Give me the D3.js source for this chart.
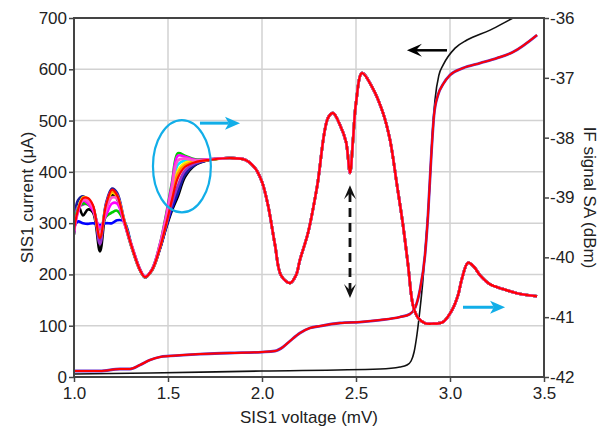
<!DOCTYPE html>
<html>
<head>
<meta charset="utf-8">
<script src="https://cdnjs.cloudflare.com/ajax/libs/d3/7.8.5/d3.min.js"></script>
<style>
body { margin: 0; background: #fff; }
svg { font-family: "Liberation Sans", Arial, sans-serif; }
</style>
</head>
<body>
<div id="chart"></div>
<script>
var width = 606,
    height = 427;
var margin = {top: 18, right: 62, bottom: 50, left: 74};

// axes
var xTicks = [1.0, 1.5, 2.0, 2.5, 3.0, 3.5];
var leftTicks = [0, 100, 200, 300, 400, 500, 600, 700];
var rightTicks = [-42, -41, -40, -39, -38, -37, -36];

// IF signal traces (right axis, dBm)
var ifVolt = [1.000, 1.021, 1.048, 1.074, 1.101, 1.138, 1.170, 1.202, 1.229, 1.266, 1.309, 1.351, 1.378, 1.415, 1.457, 1.489, 1.521, 1.553, 1.590, 1.644, 1.723,
    1.830, 1.910, 1.963, 2.000, 2.032, 2.069, 2.101, 2.149, 2.181, 2.202, 2.245, 2.293, 2.351, 2.378, 2.415, 2.447, 2.468, 2.484, 2.500, 2.532,
    2.585, 2.644, 2.681, 2.718, 2.750, 2.777, 2.803, 2.830, 2.867, 2.904, 2.963, 3.011, 3.043, 3.064, 3.096, 3.128, 3.160, 3.213, 3.282, 3.356, 3.463];
var ifRed = [-39.54, -39.21, -39.01, -39.01, -39.13, -39.68, -39.13, -38.87, -38.96, -39.38, -39.84, -40.21, -40.33, -40.21, -39.84, -39.46, -39.04, -38.67, -38.49, -38.41, -38.37,
    -38.34, -38.37, -38.51, -38.74, -39.13, -39.79, -40.30, -40.43, -40.30, -40.04, -39.59, -38.82, -37.67, -37.59, -37.79, -38.07, -38.59, -38.04, -37.42, -36.92,
    -37.15, -37.59, -38.04, -38.79, -39.46, -40.13, -40.80, -41.01, -41.10, -41.11, -41.08, -40.88, -40.63, -40.35, -40.09, -40.16, -40.30, -40.45, -40.53, -40.60, -40.65];
// the other traces only differ below ~1.72 mV
var leftBlack = [-39.62, -39.12, -39.30, -39.20, -39.25, -39.90, -39.20, -38.95, -39.02, -39.40, -39.86, -40.22, -40.33, -40.22, -39.86, -39.52, -39.22, -38.98, -38.66, -38.46, -38.37];
var leftBlue = [-39.50, -39.40, -39.43, -39.44, -39.43, -39.46, -39.43, -39.43, -39.38, -39.40, -39.84, -40.20, -40.33, -40.20, -39.84, -39.50, -39.18, -38.92, -38.60, -38.44, -38.37];
var leftNavy = [-39.45, -39.05, -38.98, -39.05, -39.15, -39.75, -39.10, -38.85, -38.92, -39.36, -39.84, -40.21, -40.34, -40.21, -39.86, -39.50, -39.14, -38.90, -38.62, -38.45, -38.37];
var leftPurple = [-39.60, -39.15, -39.12, -39.10, -39.18, -39.78, -39.12, -38.88, -38.95, -39.37, -39.85, -40.21, -40.33, -40.21, -39.85, -39.48, -39.10, -38.80, -38.55, -38.43, -38.37];
var leftCyan = [-39.52, -39.18, -39.05, -39.05, -39.15, -39.60, -39.15, -38.90, -38.97, -39.38, -39.84, -40.21, -40.33, -40.21, -39.80, -39.38, -38.88, -38.45, -38.38, -38.38, -38.36];
var leftYellow = [-39.50, -39.20, -39.00, -39.02, -39.18, -39.62, -39.18, -38.92, -38.98, -39.38, -39.84, -40.21, -40.33, -40.21, -39.82, -39.42, -38.95, -38.55, -38.42, -38.39, -38.37];
var leftOrange = [-39.55, -39.22, -39.03, -39.03, -39.15, -39.65, -39.15, -38.90, -38.98, -39.38, -39.84, -40.21, -40.33, -40.21, -39.83, -39.44, -38.98, -38.60, -38.46, -38.40, -38.37];
var leftGreen = [-39.50, -39.20, -39.10, -39.12, -39.20, -39.55, -39.32, -39.25, -39.22, -39.40, -39.82, -40.20, -40.33, -40.20, -39.78, -39.30, -38.75, -38.26, -38.30, -38.36, -38.36];
var leftMagenta = [-39.58, -39.25, -39.05, -39.10, -39.22, -39.50, -39.30, -39.10, -39.10, -39.42, -39.82, -40.20, -40.32, -40.20, -39.78, -39.32, -38.78, -38.30, -38.32, -38.37, -38.36];
var leftPink = [-39.56, -39.22, -39.04, -39.06, -39.18, -39.58, -39.22, -39.00, -39.02, -39.40, -39.83, -40.21, -40.33, -40.21, -39.80, -39.36, -38.84, -38.38, -38.35, -38.38, -38.36];

// I-V curves (left axis, uA)
var ivVolt = [1.000, 1.138, 1.245, 1.298, 1.351, 1.404, 1.457, 1.511, 1.670, 1.830, 2.000, 2.069, 2.112, 2.149, 2.202, 2.255, 2.309, 2.415, 2.521, 2.628,
    2.734, 2.787, 2.814, 2.840, 2.867, 2.883, 2.899, 2.915, 2.936, 2.963, 3.000, 3.069, 3.160, 3.250, 3.335, 3.463];
var ivPumped = [11.7, 11.7, 15.6, 15.6, 23.4, 33.1, 39.0, 41.0, 44.8, 46.8, 48.7, 50.7, 58.5, 70.2, 85.8, 95.5, 99.4, 105.3, 107.2, 111.0,
    117.0, 122.8, 134.5, 169.6, 237.8, 315.8, 423.0, 510.7, 549.7, 571.0, 588.7, 602.3, 612.0, 621.8, 633.5, 666.7];
var ivUnVolt = [1.000, 1.404, 2.000, 2.628, 2.734, 2.771, 2.793, 2.809, 2.824, 2.840, 2.856, 2.872, 2.888, 2.904, 2.920, 2.941, 2.963, 3.027, 3.090, 3.213, 3.335, 3.400];
var ivUnpumped = [5.8, 7.8, 11.7, 15.6, 19.5, 23.4, 31.2, 48.7, 81.9, 130.6, 189, 267, 345, 462, 540, 588.7, 608, 641.3, 657, 676.4, 700, 712];

var traces = [
    ["#000000", leftBlack], ["#0000ff", leftBlue], ["#1c1c9c", leftNavy], ["#9933cc", leftPurple],
    ["#00e5ff", leftCyan], ["#ffee00", leftYellow], ["#ff9900", leftOrange], ["#00cc00", leftGreen],
    ["#ff00ff", leftMagenta], ["#ff55cc", leftPink]
];

var x = d3.scaleLinear().domain([1, 3.5]).range([margin.left, width - margin.right]);
var yL = d3.scaleLinear().domain([0, 700]).range([height - margin.bottom, margin.top]);
var yR = d3.scaleLinear().domain([-42, -36]).range([height - margin.bottom, margin.top]);

var svg = d3.select("#chart").append("svg")
    .attr("width", width)
    .attr("height", height);

svg.append("clipPath").attr("id", "plot")
    .append("rect")
    .attr("x", margin.left).attr("y", margin.top)
    .attr("width", x(3.5) - x(1)).attr("height", yL(0) - yL(700));

// grid
svg.append("g").selectAll("line").data(xTicks).join("line")
    .attr("x1", d => x(d)).attr("x2", d => x(d))
    .attr("y1", yL(0)).attr("y2", yL(700))
    .attr("stroke", "#d2d2d2").attr("stroke-width", 1.5);
svg.append("g").selectAll("line").data(leftTicks).join("line")
    .attr("x1", x(1)).attr("x2", x(3.5))
    .attr("y1", d => yL(d)).attr("y2", d => yL(d))
    .attr("stroke", "#d2d2d2").attr("stroke-width", 1.5);

var plot = svg.append("g").attr("clip-path", "url(#plot)");

var ifLine = d3.line()
    .x(d => x(d[0]))
    .y(d => yR(d[1]))
    .curve(d3.curveCatmullRom.alpha(0.5));
var ivLine = d3.line()
    .x(d => x(d[0]))
    .y(d => yL(d[1]))
    .curve(d3.curveMonotoneX);

// unpumped I-V
plot.append("path")
    .datum(d3.zip(ivUnVolt, ivUnpumped))
    .attr("d", ivLine)
    .attr("fill", "none").attr("stroke", "#111").attr("stroke-width", 1.6);

// pumped I-V
plot.append("path")
    .datum(d3.zip(ivVolt, ivPumped))
    .attr("d", ivLine)
    .attr("fill", "none").attr("stroke", "#6633cc").attr("stroke-width", 2.8);
plot.append("path")
    .datum(d3.zip(ivVolt, ivPumped))
    .attr("d", ivLine)
    .attr("fill", "none").attr("stroke", "#ff0000").attr("stroke-width", 2);

// IF traces
traces.forEach(function (t) {
    var vals = t[1].concat(ifRed.slice(t[1].length));
    plot.append("path")
        .datum(d3.zip(ifVolt, vals))
        .attr("d", ifLine)
        .attr("fill", "none").attr("stroke", t[0]).attr("stroke-width", 2.6)
        .attr("stroke-linejoin", "round");
});
plot.append("path")
    .datum(d3.zip(ifVolt, ifRed))
    .attr("d", ifLine)
    .attr("fill", "none").attr("stroke", "#ff0000").attr("stroke-width", 2.2)
    .attr("stroke-linejoin", "round");

// frame
svg.append("rect")
    .attr("x", x(1)).attr("y", yL(700))
    .attr("width", x(3.5) - x(1)).attr("height", yL(0) - yL(700))
    .attr("fill", "none").attr("stroke", "#444").attr("stroke-width", 2);

// axes
function styleAxis(g) {
    g.select(".domain").remove();
    g.selectAll(".tick line").attr("stroke", "#444").attr("stroke-width", 1.5);
    g.selectAll(".tick text").attr("fill", "#222").attr("font-size", 17)
        .attr("font-family", "'Liberation Sans', Arial, sans-serif");
}
svg.append("g")
    .attr("transform", "translate(0," + yL(0) + ")")
    .call(d3.axisBottom(x).tickValues(xTicks).tickFormat(d3.format(".1f")).tickSize(5).tickPadding(5))
    .call(styleAxis);
svg.append("g")
    .attr("transform", "translate(" + x(1) + ",0)")
    .call(d3.axisLeft(yL).tickValues(leftTicks).tickSize(5).tickPadding(2))
    .call(styleAxis);
svg.append("g")
    .attr("transform", "translate(" + x(3.5) + ",0)")
    .call(d3.axisRight(yR).tickValues(rightTicks).tickFormat(d => String(d)).tickSize(5).tickPadding(1))
    .call(styleAxis);

// titles
svg.append("text")
    .attr("x", (x(1) + x(3.5)) / 2).attr("y", 423)
    .attr("text-anchor", "middle").attr("font-size", 17).attr("fill", "#222")
    .text("SIS1 voltage (mV)");
svg.append("text")
    .attr("transform", "translate(33," + (yL(0) + yL(700)) / 2 + ") rotate(-90)")
    .attr("text-anchor", "middle").attr("font-size", 17).attr("fill", "#222")
    .text("SIS1 current (μA)");
svg.append("text")
    .attr("transform", "translate(584," + (yL(0) + yL(700)) / 2 + ") rotate(90)")
    .attr("text-anchor", "middle").attr("font-size", 17).attr("fill", "#222")
    .text("IF signal SA (dBm)");

// annotations
var blue = "#12aee8";
svg.append("ellipse")
    .attr("cx", x(1.574)).attr("cy", yL(411))
    .attr("rx", x(1.728) - x(1.574)).attr("ry", yL(321) - yL(411))
    .attr("fill", "none").attr("stroke", blue).attr("stroke-width", 2.2);

function head(x1, y1, x2, y2, L, W, notch) {
    var dx = x2 - x1, dy = y2 - y1, n = Math.sqrt(dx * dx + dy * dy);
    var ux = dx / n, uy = dy / n, px = -uy, py = ux;
    var bx = x2 - L * ux, by = y2 - L * uy;
    return "M" + x2 + "," + y2 +
        "L" + (bx + px * W / 2) + "," + (by + py * W / 2) +
        "L" + (x2 - notch * L * ux) + "," + (y2 - notch * L * uy) +
        "L" + (bx - px * W / 2) + "," + (by - py * W / 2) + "Z";
}

function arrow(x1, y1, x2, y2, color, sw, L, W, notch, dash, both) {
    var g = svg.append("g");
    var dx = x2 - x1, dy = y2 - y1, n = Math.sqrt(dx * dx + dy * dy);
    var ux = dx / n, uy = dy / n;
    var sx = both ? x1 + ux * notch * L : x1, sy = both ? y1 + uy * notch * L : y1;
    g.append("line")
        .attr("x1", sx).attr("y1", sy)
        .attr("x2", x2 - ux * notch * L).attr("y2", y2 - uy * notch * L)
        .attr("stroke", color).attr("stroke-width", sw)
        .attr("stroke-dasharray", dash || null);
    g.append("path").attr("d", head(x1, y1, x2, y2, L, W, notch)).attr("fill", color);
    if (both) g.append("path").attr("d", head(x2, y2, x1, y1, L, W, notch)).attr("fill", color);
}

arrow(x(1.670), yL(495), x(1.883), yL(495), blue, 3, 15, 13, 0.75);
arrow(x(3.069), yL(136), x(3.293), yL(136), blue, 3, 15, 13, 0.75);
arrow(x(2.984), yL(637), x(2.771), yL(637), "#000", 2.5, 15, 13, 0.6);
arrow(x(2.468), yL(374), x(2.468), yL(154), "#111", 2.8, 14, 12, 0.55, "9,6", true);
</script>
</body>
</html>
